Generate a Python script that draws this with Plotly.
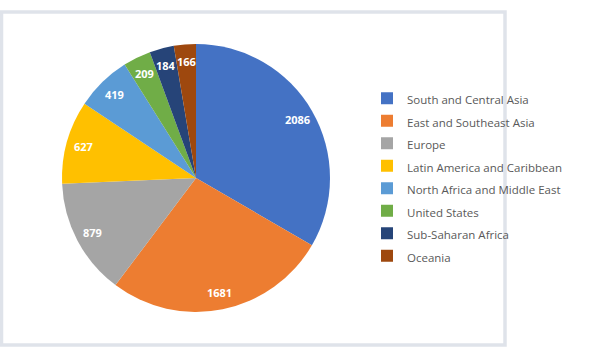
import math
import plotly.graph_objects as go

categories = ["South and Central Asia", "East and Southeast Asia", "Europe",
              "Latin America and Caribbean", "North Africa and Middle East",
              "United States", "Sub-Saharan Africa", "Oceania"]
values = [2086, 1681, 879, 627, 419, 209, 184, 166]
colors = ["#4472C4", "#ED7D31", "#A5A5A5", "#FFC000", "#5B9BD5",
          "#70AD47", "#264478", "#9E480E"]

W, H = 596, 357
cx_px, cy_px, R = 196, 178, 134

labels = [f"<span style='font-size:11.5px'>{c}</span>" for c in categories]

fig = go.Figure()
fig.add_trace(go.Pie(
    labels=labels, values=values, sort=False, direction="clockwise", rotation=0,
    marker=dict(colors=colors, line=dict(width=0)),
    textinfo="none", hoverinfo="label+value",
    domain=dict(x=[(cx_px - R) / W, (cx_px + R) / W],
                y=[1 - (cy_px + R) / H, 1 - (cy_px - R) / H]),
))

# data labels placed at each slice's mid-angle
total = sum(values)
cum = 0
annotations = []
for v in values:
    mid = (cum + v / 2) / total * 2 * math.pi
    cum += v
    r = 0.87 * R
    annotations.append(dict(
        x=(cx_px + r * math.sin(mid)) / W, y=1 - (cy_px - r * math.cos(mid)) / H,
        xref="paper", yref="paper", text=f"<b>{v}</b>", showarrow=False,
        font=dict(family="Open Sans", size=11, color="white"),
        xanchor="center", yanchor="middle"))

fig.update_layout(
    width=W, height=H, margin=dict(l=0, r=0, t=0, b=0),
    paper_bgcolor="white", plot_bgcolor="white",
    font=dict(family="Open Sans", color="#595959"),
    showlegend=True,
    legend=dict(x=367 / W, y=1 - 82 / H, xanchor="left", yanchor="top",
                font=dict(family="Open Sans", size=15, color="#595959"),
                bgcolor="rgba(0,0,0,0)", borderwidth=0),
    annotations=annotations,
    shapes=[dict(type="rect", xref="paper", yref="paper",
                 x0=1.5 / W, x1=505 / W, y0=1 - 345 / H, y1=1 - 12 / H,
                 line=dict(color="#DFE3EA", width=3.5), layer="below")],
)

fig.write_html("out.html", config={"displayModeBar": False},
               post_script="document.body.style.margin='0';")
